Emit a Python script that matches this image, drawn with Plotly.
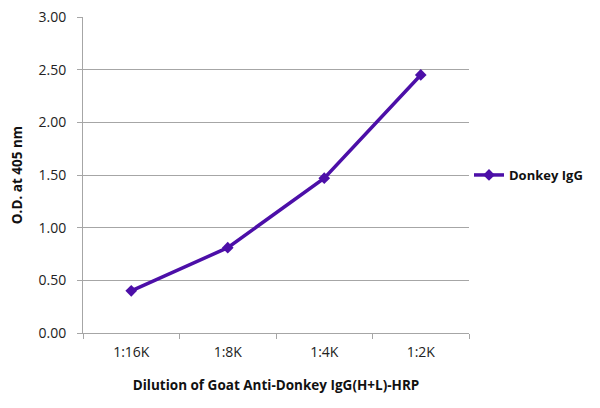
import plotly.graph_objects as go

# data
dilutions = ["1:16K", "1:8K", "1:4K", "1:2K"]
od_405 = [0.40, 0.81, 1.47, 2.45]
y_ticks = [0.0, 0.5, 1.0, 1.5, 2.0, 2.5, 3.0]
series_name = "Donkey IgG"

purple = "#4c0fa8"
grid_gray = "#a6a6a6"
font_family = "Open Sans, Lato, sans-serif"

fig = go.Figure()
fig.add_trace(go.Scatter(
    x=dilutions, y=od_405, mode="lines+markers", name="<b>" + series_name + "</b>",
    line=dict(color=purple, width=3.5),
    marker=dict(symbol="diamond", size=9, color=purple),
))

fig.update_layout(
    width=600, height=408,
    margin=dict(l=83, r=127, t=17, b=75),
    paper_bgcolor="white", plot_bgcolor="white",
    font=dict(family=font_family, size=13, color="#222222"),
    showlegend=True,
    legend=dict(x=1.0, y=0.5, xanchor="left", yanchor="middle",
                font=dict(size=13, color="#111111", family=font_family),
                itemwidth=30),
    xaxis=dict(
        type="category", range=[-0.5, 3.5], tickson="boundaries",
        ticks="outside", ticklen=5, automargin=False, ticklabelstandoff=6,
        tickcolor=grid_gray, showline=True, linecolor=grid_gray, linewidth=1,
        showgrid=False, tickfont=dict(size=14),
        title=dict(text="<b>Dilution of Goat Anti-Donkey IgG(H+L)-HRP</b>",
                   font=dict(size=13.5, color="#111111"), standoff=20),
    ),
    yaxis=dict(
        range=[0, 3.0], tickvals=y_ticks, tickformat=".2f", automargin=False,
        showgrid=True, gridcolor=grid_gray, gridwidth=1,
        showline=True, linecolor=grid_gray, linewidth=1,
        ticks="outside", ticklen=5, tickcolor=grid_gray, ticklabelstandoff=8,
        zeroline=False, tickfont=dict(size=14),
        title=dict(text="<b>O.D. at 405 nm</b>",
                   font=dict(size=13.5, color="#111111"), standoff=12),
    ),
)

# drop the default page margin so the figure sits at the window's corner
fig.write_html("out.html", config={"displayModeBar": False},
               post_script="document.body.style.margin='0';")
